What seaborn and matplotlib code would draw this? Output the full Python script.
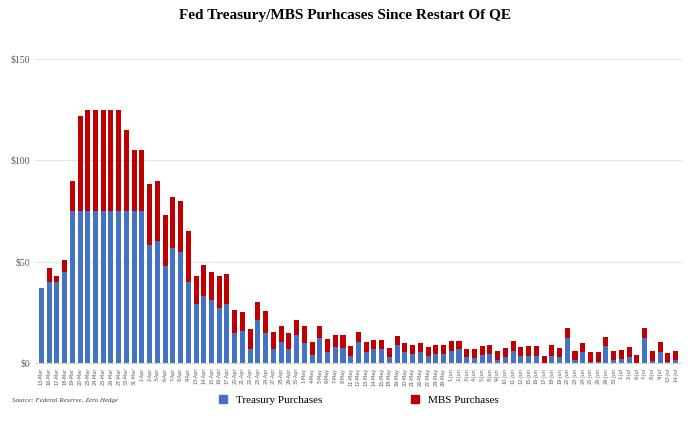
import matplotlib
matplotlib.use("Agg")
import matplotlib.pyplot as plt
import seaborn as sns
import pandas as pd

dates = ["13-Mar","16-Mar","17-Mar","18-Mar","19-Mar","20-Mar","23-Mar","24-Mar","25-Mar","26-Mar","27-Mar","30-Mar","31-Mar",
 "1-Apr","2-Apr","3-Apr","6-Apr","7-Apr","8-Apr","9-Apr","13-Apr","14-Apr","15-Apr","16-Apr","17-Apr","20-Apr","21-Apr","22-Apr","23-Apr","24-Apr","27-Apr","28-Apr","29-Apr","30-Apr",
 "1-May","4-May","5-May","6-May","7-May","8-May","11-May","12-May","13-May","14-May","15-May","18-May","19-May","20-May","21-May","26-May","27-May","28-May","29-May",
 "1-Jun","2-Jun","3-Jun","4-Jun","5-Jun","8-Jun","9-Jun","10-Jun","11-Jun","12-Jun","15-Jun","16-Jun","17-Jun","18-Jun","19-Jun","22-Jun","23-Jun","24-Jun","25-Jun","26-Jun","29-Jun","30-Jun",
 "1-Jul","2-Jul","6-Jul","7-Jul","8-Jul","9-Jul","13-Jul","14-Jul"]

treasury = [37,40,40,45,75,75,75,75,75,75,75,75,75,75,58,60,48,57,55,40,29,33,31,27,29,15,16,7,21,
 15,7,10.5,6.7,13.7,10,4,12.5,5.6,7.7,7.4,3.5,10.5,5.4,6.7,6.7,3,8.9,5.4,4.6,5.6,3.5,4.3,4.6,5.9,6.7,2.8,2.3,
 4,4.4,1.5,3,5.9,3.5,3.5,3.5,0,3.5,3,12.3,1.5,5.6,0.7,0.7,8.2,1.5,1.8,3.1,0,12.3,1.2,5.6,0.7,1.5]
total = [37,47,43,51,90,122,125,125,125,125,125,115,105,105,88.5,90,73,82,80,65,43,48.5,45,43,44,26,25,17,30,
 25.7,15.3,18.3,14.8,21.2,18.3,10.2,18.3,11.7,13.7,13.7,8.6,15.5,10.4,11.5,11.5,7.4,13.3,9.9,8.9,9.9,7.7,8.7,8.7,10.9,11,6.9,6.9,
 8.4,8.9,5.9,7.4,10.7,8.1,8.6,8.2,3.6,8.7,7.4,17.1,5.9,10,5.4,5.4,13,5.9,6.4,7.7,3.8,17.1,5.8,10.4,5.1,5.9]
mbs = [t - s for t, s in zip(total, treasury)]

df = pd.DataFrame({"date": dates, "treasury": treasury, "total": total})

fig = plt.figure(figsize=(6.9, 4.29), dpi=100)
ax = fig.add_axes([0.051, 0.154, 0.937, 0.708])
sns.barplot(data=df, x="date", y="total", color="#C00000", width=0.65, ax=ax, saturation=1)
sns.barplot(data=df, x="date", y="treasury", color="#4472C4", width=0.65, ax=ax, saturation=1)
ax.set_ylim(0, 150)
ax.set_yticks([0, 50, 100, 150])
ax.set_yticklabels(["$0", "$50", "$100", "$150"], fontfamily="Liberation Serif", fontsize=7, color="#595959")
ax.set_xlabel(""); ax.set_ylabel("")
ax.tick_params(axis="x", labelsize=3.5, labelrotation=90, colors="#595959", length=0)
ax.tick_params(axis="y", length=0)
ax.grid(axis="y", color="#e6e6e6", linewidth=0.8)
ax.set_axisbelow(True)
for s in ["top", "right", "left"]:
    ax.spines[s].set_visible(False)
ax.spines["bottom"].set_color("#d9d9d9")
ax.set_xlim(-0.8, len(dates) - 0.2)

fig.text(0.5, 0.965, "Fed Treasury/MBS Purhcases Since Restart Of QE", ha="center", va="center",
         fontfamily="Liberation Serif", fontweight="bold", fontsize=11)
from matplotlib.patches import Patch
fig.legend(handles=[Patch(color="#4472C4", label="Treasury Purchases"), Patch(color="#C00000", label="MBS Purchases")],
           loc="center", bbox_to_anchor=(0.52, 0.067), ncol=2, frameon=False, columnspacing=8,
           handlelength=0.7, handleheight=0.7, prop={"family": "Liberation Serif", "size": 8})
fig.text(0.017, 0.067, "Source: Federal Reserve, Zero Hedge", fontfamily="Liberation Serif", fontstyle="italic",
         fontsize=5, va="center", color="#404040")
fig.savefig("out.png", dpi=100, facecolor="white")
